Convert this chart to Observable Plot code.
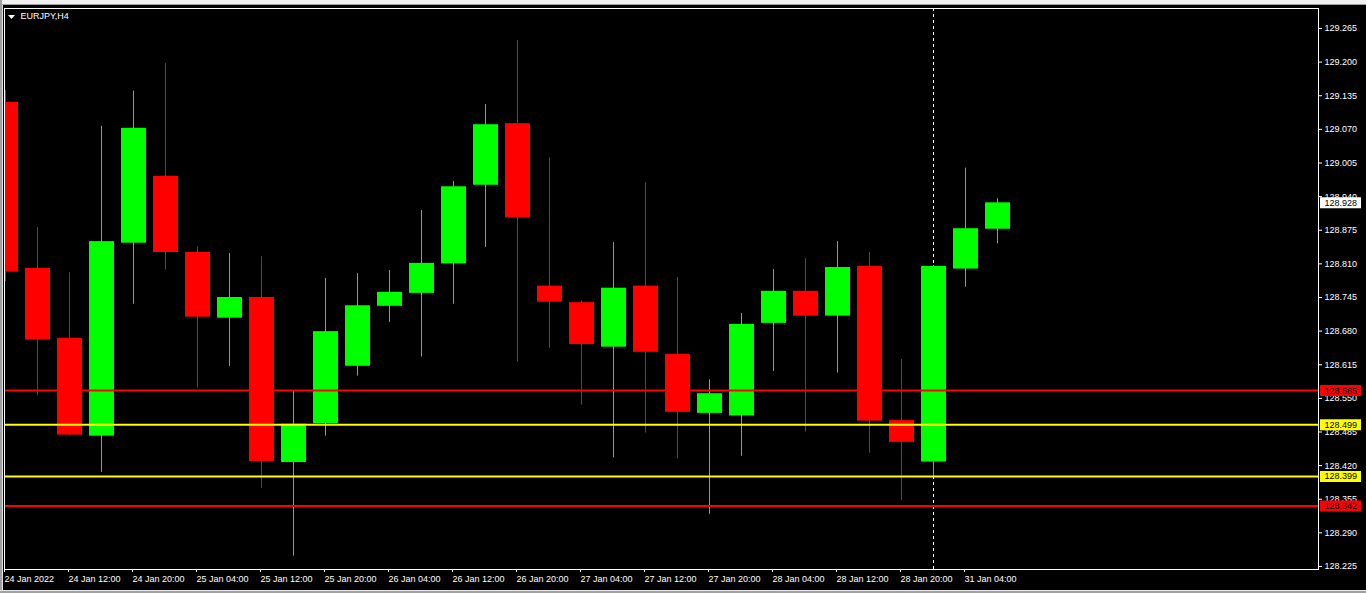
<!DOCTYPE html>
<html><head><meta charset="utf-8">
<script src="https://cdn.jsdelivr.net/npm/d3@7"></script>
<script src="https://cdn.jsdelivr.net/npm/@observablehq/plot@0.6"></script>
<style>
html,body{margin:0;padding:0;background:#000;overflow:hidden}
#wrap{position:relative;width:1366px;height:593px;background:#000}
#wrap svg{position:absolute;left:0;top:0}
.strip{position:absolute}
</style></head><body>
<div id="wrap"></div>
<script>
// ---- data ----
const symbolLabel = "EURJPY,H4";
const xLabels = ["24 Jan 2022","24 Jan 12:00","24 Jan 20:00","25 Jan 04:00","25 Jan 12:00","25 Jan 20:00","26 Jan 04:00","26 Jan 12:00","26 Jan 20:00","27 Jan 04:00","27 Jan 12:00","27 Jan 20:00","28 Jan 04:00","28 Jan 12:00","28 Jan 20:00","31 Jan 04:00"];
const xTickIdx = [0,2,4,6,8,10,12,14,16,18,20,22,24,26,28,30];
const opens  = [129.122,128.801,128.666,128.477,128.850,128.979,128.832,128.705,128.745,128.426,128.501,128.612,128.728,128.753,128.810,128.962,129.081,128.767,128.735,128.649,128.767,128.635,128.521,128.516,128.695,128.757,128.709,128.805,128.507,128.427,128.800,128.877];
const highs  = [129.145,128.880,128.793,129.076,129.144,129.197,128.843,128.830,128.824,128.564,128.782,128.791,128.797,128.913,128.969,129.118,129.242,129.015,128.738,128.851,128.967,128.784,128.586,128.714,128.799,128.820,128.853,128.832,128.625,128.807,128.995,128.936];
const lows   = [128.776,128.555,128.478,128.407,128.732,128.798,128.570,128.612,128.376,128.245,128.477,128.593,128.697,128.630,128.732,128.842,128.620,128.647,128.537,128.435,128.483,128.433,128.326,128.438,128.602,128.485,128.599,128.444,128.352,128.398,128.765,128.849];
const closes = [128.794,128.663,128.479,128.853,129.072,128.832,128.707,128.745,128.428,128.500,128.679,128.729,128.755,128.811,128.959,129.079,128.899,128.736,128.654,128.763,128.639,128.523,128.559,128.693,128.757,128.709,128.803,128.506,128.465,128.805,128.878,128.928];
const yTicks = [129.265,129.200,129.135,129.070,129.005,128.940,128.875,128.810,128.745,128.680,128.615,128.550,128.485,128.420,128.355,128.290,128.225];
const levelPrices = [128.565,128.499,128.399,128.342];
const levelColors = ["#ff0000","#ffff00","#ffff00","#ff0000"];
const bidPrice = 128.928;
const separatorIdx = [29];

// ---- build ----
const candles = opens.map((o,i)=>({i, open:o, high:highs[i], low:lows[i], close:closes[i], color: closes[i] > o ? "#00ff00" : "#ff0000"}));
const levels = levelPrices.map((p,k)=>({price:p, color:levelColors[k]}));
const boxes = [...levels, {price:bidPrice, color:"#ffffff"}];
const fmt = d3.format(".3f");
const xMax = 41.03125, barPx = 32;
const downTri = {draw(ctx){ctx.moveTo(-3.5,-2);ctx.lineTo(3.5,-2);ctx.lineTo(0,2);ctx.closePath();}};

const chart = Plot.plot({
  width:1366, height:593,
  marginLeft:4, marginRight:48, marginTop:8, marginBottom:24,
  style:{background:"#000", color:"#fff", fontFamily:"'Liberation Sans', Arial, sans-serif", fontSize:"9px"},
  x:{domain:[-1/32, xMax], label:null},
  y:{domain:[128.2192, 129.30366], label:null},
  color:{type:"identity"},
  marks:[
    Plot.ruleX(separatorIdx, {x:d=>d, stroke:"#fff", strokeDasharray:"3,3"}),
    Plot.ruleX(candles, {x:"i", y1:"low", y2:"high", stroke:"color", clip:true}),
    Plot.rect(candles, {x1:d=>d.i-12/barPx, x2:d=>d.i+13/barPx, y1:"open", y2:"close", fill:"color", clip:true}),
    Plot.ruleY(levels, {y:"price", stroke:"color", strokeWidth:2}),
    Plot.frame({stroke:"#fff"}),
    Plot.axisY(yTicks, {anchor:"right", label:null, tickSize:3, tickPadding:3, tickFormat:fmt}),
    Plot.axisX(xTickIdx, {anchor:"bottom", label:null, tickSize:3, tickPadding:3, tickFormat:i=>xLabels[xTickIdx.indexOf(i)], textAnchor:"start", dx:-1}),
    Plot.ruleY(boxes, {y:"price", x1:xMax+2/barPx, x2:xMax+43/barPx, stroke:"color", strokeWidth:11}),
    Plot.text(boxes, {y:"price", text:d=>fmt(d.price), frameAnchor:"right", dx:6, textAnchor:"start", fill:"#000"}),
    Plot.dot([0], {frameAnchor:"top-left", dx:7, dy:8.5, symbol:downTri, r:3, fill:"#fff", stroke:null}),
    Plot.text([symbolLabel], {frameAnchor:"top-left", dx:16, dy:8, textAnchor:"start", lineAnchor:"middle", fill:"#fff"})
  ]
});
const wrap = document.getElementById("wrap");
wrap.appendChild(chart);
function strip(l,t,w,h,c){const d=document.createElement("div");d.className="strip";Object.assign(d.style,{left:l+"px",top:t+"px",width:w+"px",height:h+"px",background:c});wrap.appendChild(d);}
strip(0,0,1366,4,"#f0f0f0");
strip(0,4,1366,1,"#a0a0a0");
strip(0,0,2,593,"#a0a0a0");
strip(2,5,1,588,"#e0e0e0");
strip(0,590,1366,1,"#e8e8e8");
strip(0,591,1366,2,"#a0a0a0");
</script>
</body></html>
